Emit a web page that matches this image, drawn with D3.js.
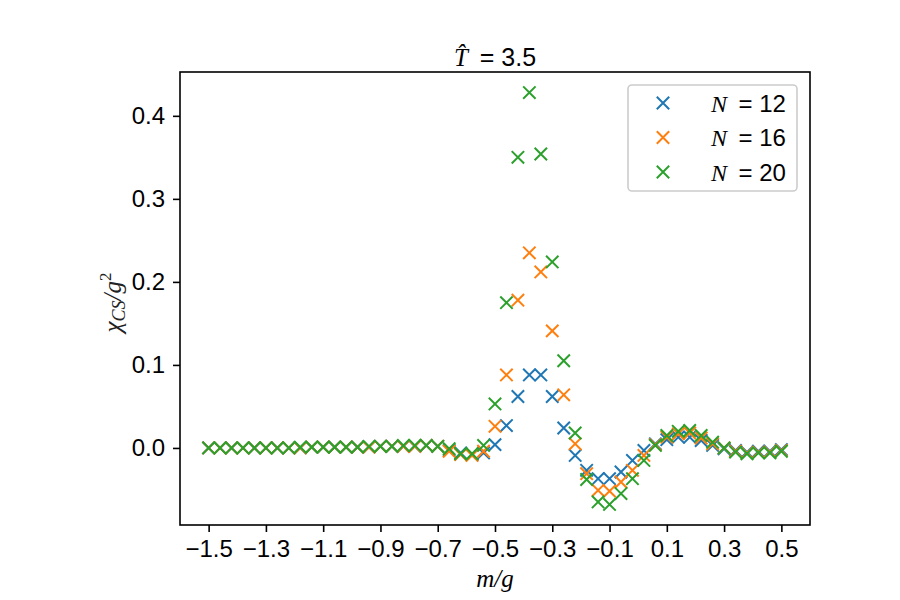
<!DOCTYPE html>
<html>
<head>
<meta charset="utf-8">
<script src="https://cdn.jsdelivr.net/npm/d3@7"></script>
<style>
  body { margin: 0; background: #fff; }
  svg { display: block; }
</style>
</head>
<body>
<svg id="chart" width="900" height="600"></svg>
<script>
// ---- data ----
const xValues = [-1.50,-1.46,-1.42,-1.38,-1.34,-1.30,-1.26,-1.22,-1.18,-1.14,-1.10,-1.06,-1.02,-0.98,-0.94,-0.90,-0.86,-0.82,-0.78,-0.74,
  -0.70,-0.66,-0.62,-0.58,-0.54,-0.50,-0.46,-0.42,-0.38,-0.34,-0.30,-0.26,-0.22,-0.18,-0.14,-0.10,-0.06,-0.02,
  0.02,0.06,0.10,0.14,0.18,0.22,0.26,0.30,0.34,0.38,0.42,0.46,0.50];

const seriesN12 = [0.000,0.000,0.000,0.000,0.000,0.000,0.000,0.000,0.000,0.001,0.001,0.001,0.001,0.001,0.001,0.002,0.002,0.002,0.002,0.003,
  0.002,-0.003,-0.006,-0.008,-0.006,0.004,0.027,0.062,0.088,0.088,0.062,0.024,-0.009,-0.027,-0.037,-0.037,-0.029,-0.015,
  -0.003,0.005,0.010,0.013,0.013,0.009,0.003,-0.001,-0.003,-0.005,-0.004,-0.004,-0.002];

const seriesN16 = [0.000,0.000,0.000,0.000,0.000,0.000,0.000,0.000,0.000,0.001,0.001,0.001,0.001,0.001,0.001,0.002,0.002,0.002,0.002,0.003,
  0.002,-0.004,-0.008,-0.009,-0.004,0.026,0.088,0.178,0.235,0.212,0.141,0.064,0.005,-0.031,-0.051,-0.052,-0.041,-0.027,
  -0.009,0.004,0.013,0.017,0.018,0.012,0.005,0.000,-0.004,-0.006,-0.005,-0.005,-0.003];

const seriesN20 = [0.000,0.000,0.000,0.000,0.000,0.000,0.000,0.000,0.001,0.001,0.001,0.001,0.001,0.001,0.002,0.002,0.002,0.003,0.003,0.003,
  0.002,-0.001,-0.007,-0.007,0.003,0.053,0.175,0.350,0.428,0.354,0.224,0.105,0.018,-0.038,-0.065,-0.068,-0.055,-0.037,
  -0.015,0.003,0.015,0.020,0.021,0.015,0.007,0.000,-0.005,-0.007,-0.006,-0.006,-0.004];

const seriesLabels = ["12", "16", "20"];
const seriesColors = ["#1f77b4", "#ff7f0e", "#2ca02c"];
const xTickValues = [-1.5,-1.3,-1.1,-0.9,-0.7,-0.5,-0.3,-0.1,0.1,0.3,0.5];
const yTickValues = [0.0,0.1,0.2,0.3,0.4];

// ---- layout ----
const svg = d3.select("#chart");
const L = 180, R = 810, T = 72, B = 525;
const sansFont = "'Liberation Sans', Arial, Helvetica, sans-serif";
const serifFont = "'Liberation Serif', 'DejaVu Serif', serif";
const fs = 24;

const allSeries = [seriesN12, seriesN16, seriesN20];
const xMin = d3.min(xValues), xMax = d3.max(xValues);
const yMin = d3.min(allSeries.flat()), yMax = d3.max(allSeries.flat());
const xPad = (xMax - xMin) * 0.05, yPad = (yMax - yMin) * 0.05;

const x = d3.scaleLinear().domain([xMin - xPad, xMax + xPad]).range([L, R]);
const y = d3.scaleLinear().domain([yMin - yPad, yMax + yPad]).range([B, T]);

// ---- axes ----
const fmt = d3.format(".1f");
const xAxis = svg.append("g").attr("transform", `translate(0,${B})`)
  .call(d3.axisBottom(x).tickValues(xTickValues).tickFormat(fmt).tickSize(7).tickPadding(8));
const yAxis = svg.append("g").attr("transform", `translate(${L},0)`)
  .call(d3.axisLeft(y).tickValues(yTickValues).tickFormat(fmt).tickSize(7).tickPadding(8));
[xAxis, yAxis].forEach(g => {
  g.select(".domain").remove();
  g.selectAll(".tick line").attr("stroke", "#000").attr("stroke-width", 1.6);
  g.selectAll(".tick text").attr("fill", "#000").style("font-family", sansFont).style("font-size", fs + "px");
});

// frame
svg.append("rect").attr("x", L).attr("y", T).attr("width", R - L).attr("height", B - T)
  .attr("fill", "none").attr("stroke", "#000").attr("stroke-width", 1.6);

// ---- markers ----
const ms = 6.2;
allSeries.forEach((vals, si) => {
  const g = svg.append("g").attr("stroke", seriesColors[si]).attr("stroke-width", 2).attr("fill", "none");
  const pts = xValues.map((xv, i) => [x(xv), y(vals[i])]);
  g.selectAll("path").data(pts).enter().append("path")
    .attr("d", d => `M${d[0]-ms},${d[1]-ms}L${d[0]+ms},${d[1]+ms}M${d[0]-ms},${d[1]+ms}L${d[0]+ms},${d[1]-ms}`);
});

// ---- title ----
const title = svg.append("text").attr("x", (L + R) / 2).attr("y", 66)
  .attr("text-anchor", "middle").style("font-family", sansFont).style("font-size", "25px");
title.append("tspan").style("font-family", serifFont).style("font-style", "italic").text("T\u0302");
title.append("tspan").text(" \u2009= 3.5");

// ---- axis labels ----
svg.append("text").attr("x", (L + R) / 2).attr("y", 587).attr("text-anchor", "middle")
  .style("font-family", serifFont).style("font-style", "italic").style("font-size", "25px").text("m/g");

const yl = svg.append("text").attr("transform", `translate(121,${(T + B) / 2 + 4}) rotate(-90)`)
  .attr("text-anchor", "middle").style("font-family", serifFont).style("font-size", "25px").attr("fill", "#222");
yl.append("tspan").style("font-style", "italic").text("χ");
yl.append("tspan").style("font-style", "italic").style("font-size", "18px").attr("dy", 4).text("CS");
yl.append("tspan").style("font-style", "italic").attr("dy", -4).text("/g");
yl.append("tspan").style("font-size", "17px").attr("dy", -10).text("2");

// ---- legend ----
const lg = svg.append("g");
lg.append("rect").attr("x", 628).attr("y", 85).attr("width", 169).attr("height", 106)
  .attr("rx", 4).attr("fill", "#fff").attr("fill-opacity", 0.8).attr("stroke", "#ccc").attr("stroke-width", 1.6);
seriesLabels.forEach((lab, i) => {
  const cy = 103 + i * 34.5, cx = 663;
  lg.append("path").attr("stroke", seriesColors[i]).attr("stroke-width", 2).attr("fill", "none")
    .attr("d", `M${cx-ms},${cy-ms}L${cx+ms},${cy+ms}M${cx-ms},${cy+ms}L${cx+ms},${cy-ms}`);
  const t = lg.append("text").attr("x", 711).attr("y", cy + 8.5)
    .style("font-family", sansFont).style("font-size", fs + "px");
  t.append("tspan").style("font-family", serifFont).style("font-style", "italic").text("N");
  t.append("tspan").text(" \u2009= " + lab);
});
</script>
</body>
</html>
